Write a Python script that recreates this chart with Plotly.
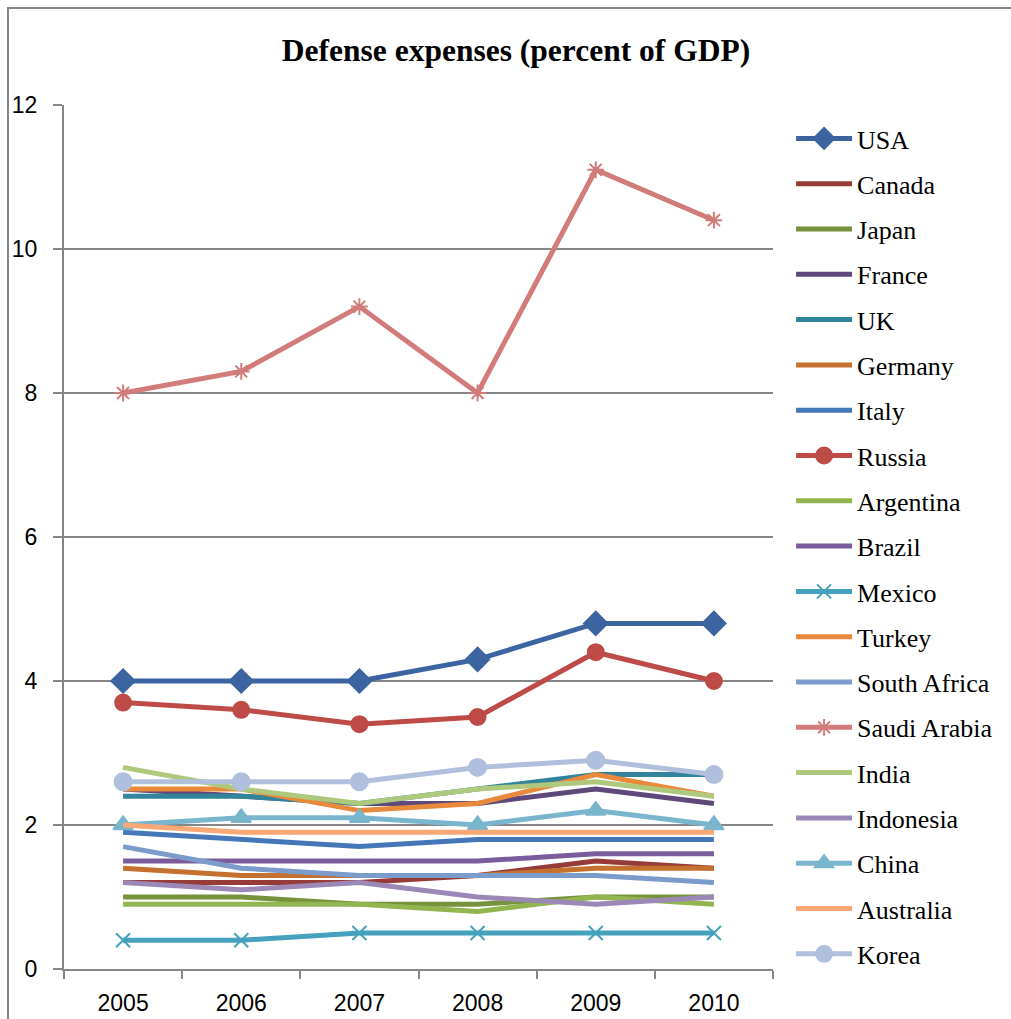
import plotly.graph_objects as go

years = ["2005", "2006", "2007", "2008", "2009", "2010"]

countries = ["USA", "Canada", "Japan", "France", "UK", "Germany", "Italy", "Russia",
             "Argentina", "Brazil", "Mexico", "Turkey", "South Africa", "Saudi Arabia",
             "India", "Indonesia", "China", "Australia", "Korea"]

usa = [4.0, 4.0, 4.0, 4.3, 4.8, 4.8]
canada = [1.2, 1.2, 1.2, 1.3, 1.5, 1.4]
japan = [1.0, 1.0, 0.9, 0.9, 1.0, 1.0]
france = [2.5, 2.4, 2.3, 2.3, 2.5, 2.3]
uk = [2.4, 2.4, 2.3, 2.5, 2.7, 2.7]
germany = [1.4, 1.3, 1.3, 1.3, 1.4, 1.4]
italy = [1.9, 1.8, 1.7, 1.8, 1.8, 1.8]
russia = [3.7, 3.6, 3.4, 3.5, 4.4, 4.0]
argentina = [0.9, 0.9, 0.9, 0.8, 1.0, 0.9]
brazil = [1.5, 1.5, 1.5, 1.5, 1.6, 1.6]
mexico = [0.4, 0.4, 0.5, 0.5, 0.5, 0.5]
turkey = [2.5, 2.5, 2.2, 2.3, 2.7, 2.4]
south_africa = [1.7, 1.4, 1.3, 1.3, 1.3, 1.2]
saudi_arabia = [8.0, 8.3, 9.2, 8.0, 11.1, 10.4]
india = [2.8, 2.5, 2.3, 2.5, 2.6, 2.4]
indonesia = [1.2, 1.1, 1.2, 1.0, 0.9, 1.0]
china = [2.0, 2.1, 2.1, 2.0, 2.2, 2.0]
australia = [2.0, 1.9, 1.9, 1.9, 1.9, 1.9]
korea = [2.6, 2.6, 2.6, 2.8, 2.9, 2.7]

values = [usa, canada, japan, france, uk, germany, italy, russia, argentina, brazil,
          mexico, turkey, south_africa, saudi_arabia, india, indonesia, china,
          australia, korea]

colors = ["#3B64A0", "#973B39", "#76923C", "#5F497A", "#31849B", "#C4702F",
          "#4577B8", "#BE4B48", "#93B550", "#7A5C9C", "#44A2BC", "#E8893C",
          "#7B9BCB", "#D17C7A", "#AFC97C", "#9C88B6", "#79B6CD", "#F8A874",
          "#B0BFDB"]

symbols = {"USA": ("diamond", 18), "Russia": ("circle", 16), "Mexico": ("x-thin", 14),
           "Saudi Arabia": ("asterisk", 14), "China": ("triangle-up", 17),
           "Korea": ("circle", 17)}

fig = go.Figure()
for name, vals, col in zip(countries, values, colors):
    if name in symbols:
        sym, sz = symbols[name]
        mode = "lines+markers"
        marker = dict(symbol=sym, size=sz, color=col, line=dict(color=col, width=2))
    else:
        mode = "lines"
        marker = dict(color=col)
    fig.add_trace(go.Scatter(x=years, y=vals, name=name, mode=mode,
                             line=dict(color=col, width=5), marker=marker,
                             legendgroup=name))

fig.update_layout(
    width=1011, height=1019,
    margin=dict(l=64, r=238, t=105, b=50, autoexpand=False),
    paper_bgcolor="white", plot_bgcolor="white",
    title=dict(text="<b>Defense expenses (percent of GDP)</b>",
               font=dict(family="Liberation Serif", size=31.5, color="black"),
               x=516 / 1011, xanchor="center", xref="container", y=1 - 50 / 1019,
               yanchor="middle", yref="container"),
    showlegend=True,
    legend=dict(x=1.0255, xanchor="left", y=(969 - 115) / 864, yanchor="top",
                maxheight=1000,
                font=dict(family="Liberation Serif", size=26, color="black"),
                tracegroupgap=8.5, itemwidth=56, bgcolor="rgba(0,0,0,0)"),
    xaxis=dict(type="category", range=[-0.5, 5.5], tickson="boundaries",
               ticks="outside", ticklen=8,
               tickcolor="#868686", tickwidth=2, showline=True, linecolor="#868686",
               linewidth=2, showgrid=False, zeroline=False,
               tickfont=dict(family="Liberation Sans", size=23, color="black"),
               ticklabelstandoff=12),
    yaxis=dict(range=[0, 12], tickvals=[0, 2, 4, 6, 8, 10, 12], ticks="outside",
               ticklen=9, tickcolor="#868686", tickwidth=2, showline=True,
               linecolor="#868686", linewidth=2, showgrid=True, gridcolor="#868686",
               gridwidth=2, zeroline=False,
               tickfont=dict(family="Liberation Sans", size=23, color="black"),
               ticklabelstandoff=11),
    shapes=[dict(type="rect", xref="paper", yref="paper",
                 x0=(8 - 64) / 709, x1=1.5, y0=-0.2, y1=(969 - 8) / 864,
                 line=dict(color="#868686", width=2), layer="below")],
)

fig.write_html("out.html")
